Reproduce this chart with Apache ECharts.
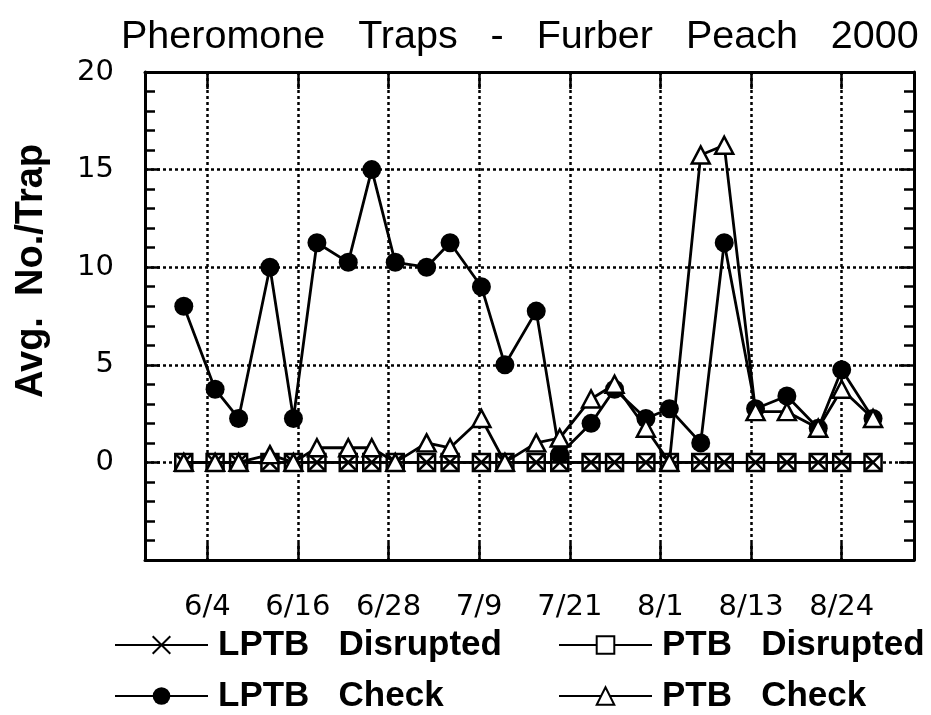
<!DOCTYPE html>
<html><head><meta charset="utf-8">
<script src="https://cdn.jsdelivr.net/npm/echarts@6/dist/echarts.min.js"></script>
<style>html,body{margin:0;padding:0;background:#fff}#c{width:931px;height:715px}</style>
</head><body><div id="c"></div>
<script>
// Trap dates (2000)
const dates = ['6/1','6/5','6/8','6/12','6/15','6/18','6/22','6/25','6/28','7/2','7/5','7/9','7/12',
  '7/16','7/19','7/23','7/26','7/30','8/2','8/6','8/9','8/13','8/17','8/21','8/24','8/28'];
const lptbDisrupted = [0,0,0,0,0,0,0,0,0,0,0,0,0,0,0,0,0,0,0,0,0,0,0,0,0,0];
const ptbDisrupted  = [0,0,0,0,0,0,0,0,0,0,0,0,0,0,0,0,0,0,0,0,0,0,0,0,0,0];
const lptbCheck = [8,3.75,2.25,10,2.25,11.25,10.25,15,10.25,10,11.25,9,5,
  7.75,0.4,2,3.75,2.25,2.75,1,11.25,2.75,3.4,1.75,4.75,2.25];
const ptbCheck = [0,0,0,0.4,0,0.75,0.75,0.75,0,1,0.75,2.25,0,
  1,1.25,3.25,4,1.75,0,15.75,16.25,2.6,2.6,1.75,3.75,2.25];
const tickLabels = ['6/4','6/16','6/28','7/9','7/21','8/1','8/13','8/24'];
const seriesNames = ['LPTB   Disrupted','PTB   Disrupted','LPTB   Check','PTB   Check'];

const monthStart = [0,31,60,91,121,152,182,213,244,274,305,335];
function doy(s){ const p = s.split('/'); return monthStart[+p[0]-1] + (+p[1]); }
const firstTick = doy(tickLabels[0]), lastTick = doy(tickLabels[tickLabels.length-1]);
const tickStep = (lastTick - firstTick) / (tickLabels.length - 1);
const tickValues = tickLabels.map((_, i) => firstTick + i * tickStep);
function pairs(vals){ return dates.map((d, i) => [doy(d), vals[i]]); }

const BLACK = '#000';
const xBase = {
  type: 'value', min: 148.05, max: 246.23,
  axisLine: { show: true, onZero: false, lineStyle: { color: BLACK, width: 3 } },
  axisTick: { show: true, inside: true, length: 17, customValues: tickValues, lineStyle: { color: BLACK, width: 2.5 } },
};
const yBase = {
  type: 'value', min: -5, max: 20, interval: 5,
  axisLine: { show: true, lineStyle: { color: BLACK, width: 3 } },
  axisTick: { show: true, inside: true, length: 15, lineStyle: { color: BLACK, width: 2.5 } },
  minorTick: { show: true, splitNumber: 5, length: 10, lineStyle: { color: BLACK, width: 2.5 } },
};
const lineSt = { color: BLACK, width: 2.8 };
const legendText = { fontSize: 35, fontFamily: 'Liberation Sans', fontWeight: 'bold', color: BLACK, lineHeight: 36, padding: [0,0,0,5] };
function legend(name, left, top){
  return { data: [name], left: left, top: top, padding: 0, itemWidth: 93, itemHeight: 22,
    selectedMode: false, textStyle: legendText };
}

const chart = echarts.init(document.getElementById('c'), null, { renderer: 'canvas' });
chart.setOption({
  animation: false,
  backgroundColor: '#fff',
  title: { text: 'Pheromone   Traps   -   Furber   Peach   2000', left: 116, top: 12,
    textStyle: { fontSize: 39.5, fontFamily: 'Liberation Sans', fontWeight: 'normal', color: BLACK } },
  grid: { left: 145, right: 17, top: 72, bottom: 155, containLabel: false },
  legend: [
    legend(seriesNames[0], 114, 627),
    legend(seriesNames[1], 558, 627),
    legend(seriesNames[2], 114, 678),
    legend(seriesNames[3], 558, 678)
  ],
  xAxis: [
    Object.assign({}, xBase, {
      position: 'bottom',
      axisLabel: { show: true, customValues: tickValues, margin: 33, fontSize: 29, fontFamily: 'DejaVu Sans', color: BLACK,
        formatter: v => { let best = 0; tickValues.forEach((t, i) => { if (Math.abs(t - v) < Math.abs(tickValues[best] - v)) best = i; }); return tickLabels[best]; } },
      splitLine: { show: true, lineStyle: { color: BLACK, width: 2.5, type: [3, 3] } }
    }),
    Object.assign({}, xBase, { position: 'top', axisLabel: { show: false }, splitLine: { show: false } })
  ],
  yAxis: [
    Object.assign({}, yBase, {
      position: 'left',
      name: 'Avg.  No./Trap', nameLocation: 'middle', nameRotate: 90, nameGap: 94,
      nameTextStyle: { fontSize: 38, fontFamily: 'Liberation Sans', fontWeight: 'bold', color: BLACK, padding: [0,0,0,90] },
      axisLabel: { show: true, margin: 31, fontSize: 29, fontFamily: 'DejaVu Sans', color: BLACK,
        formatter: v => (v < 0 ? '' : String(v)) },
      splitLine: { show: true, lineStyle: { color: BLACK, width: 2.5, type: [3, 3] } }
    }),
    Object.assign({}, yBase, { position: 'right', axisLabel: { show: false }, splitLine: { show: false } })
  ],
  series: [
    { name: seriesNames[1], type: 'line', data: pairs(ptbDisrupted), symbol: 'rect', symbolSize: 17,
      itemStyle: { color: '#fff', borderColor: BLACK, borderWidth: 2.5 }, lineStyle: lineSt, emphasis: { disabled: true }, z: 2 },
    { name: seriesNames[0], type: 'line', data: pairs(lptbDisrupted), symbol: 'path://M0,0L10,10M10,0L0,10', symbolSize: 15,
      itemStyle: { color: 'none', borderColor: BLACK, borderWidth: 2.5 }, lineStyle: lineSt, emphasis: { disabled: true }, z: 3 },
    { name: seriesNames[2], type: 'line', data: pairs(lptbCheck), symbol: 'circle', symbolSize: 19,
      itemStyle: { color: BLACK, borderColor: BLACK, borderWidth: 0 }, lineStyle: lineSt, emphasis: { disabled: true }, z: 4 },
    { name: seriesNames[3], type: 'line', data: pairs(ptbCheck), symbol: 'triangle', symbolSize: [18, 17],
      itemStyle: { color: '#fff', borderColor: BLACK, borderWidth: 2.5 }, lineStyle: lineSt, emphasis: { disabled: true }, z: 5 }
  ]
});
</script></body></html>
